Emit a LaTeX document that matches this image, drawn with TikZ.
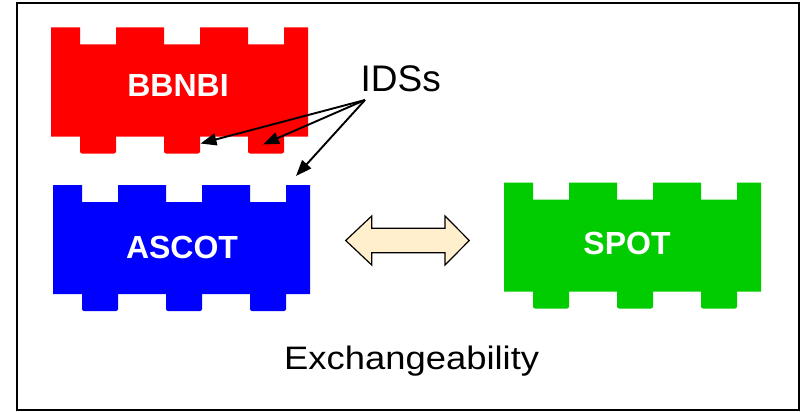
\documentclass[tikz,border=0pt]{standalone}
\usepackage{fontspec}
\setmainfont{Liberation Sans}
\usetikzlibrary{arrows.meta}

\definecolor{brickred}{HTML}{FF0000}
\definecolor{brickblue}{HTML}{0000FF}
\definecolor{brickgreen}{HTML}{00CC00}
\definecolor{swapfill}{HTML}{FFEFCC}

\tikzset{
  brick/.pic={
    % body with three notches on top
    \fill[pic actions]
      (0,0) -- (29,0) -- (29,17) -- (65,17) -- (65,0)
      -- (113,0) -- (113,17) -- (149,17) -- (149,0)
      -- (197,0) -- (197,17) -- (233,17) -- (233,0)
      -- (257,0) -- (257,109) -- (0,109) -- cycle;
    % three tabs below, slightly rounded
    \foreach \tx in {29,113,197}
      \fill[pic actions, rounded corners=2pt] (\tx,100) rectangle ++(36,26);
  },
  bricklabel/.style={text=white, font=\fontsize{32}{36}\selectfont\bfseries, inner sep=0pt},
  bigtext/.style={text=black, inner sep=0pt},
  idsarrow/.style={line width=1.9pt, -{Triangle[length=16pt,width=12pt]}},
}

\begin{document}
\begin{tikzpicture}[x=1pt, y=-1pt]
  \useasboundingbox (0,0) rectangle (801,412);
  % outer frame
  \draw[line width=2pt] (17,3.5) rectangle (799,410);

  % code bricks
  \pic[fill=brickred]   at (51,27.5)  {brick};
  \pic[fill=brickblue]  at (53,185)   {brick};
  \pic[fill=brickgreen] at (504,182.5) {brick};

  \node[bricklabel] (bbnbi) at (178,85)  {BBNBI};
  \node[bricklabel] (ascot) at (182,247) {ASCOT};
  \node[bricklabel] (spot)  at (627,243) {SPOT};

  % interface data structures
  \node[bigtext, anchor=base west, font=\fontsize{37}{40}\selectfont] (ids) at (360.5,91.7) {IDSs};
  \coordinate (idsroot) at (365,100);
  \coordinate (tipA) at (200.5,143.5);
  \coordinate (tipB) at (263,144.5);
  \coordinate (tipC) at (296,176);
  \draw[idsarrow] (idsroot) -- (tipA);
  \draw[idsarrow] (idsroot) -- (tipB);
  \draw[idsarrow] (idsroot) -- (tipC);

  % exchange arrow between the codes
  \filldraw[fill=swapfill, draw=black, line width=1.2pt, line join=miter]
    (345.7,240.5) -- (371.7,216) -- (371.7,228.3) -- (445,228.3) -- (445,216)
    -- (469.3,240.5) -- (445,265) -- (445,252.7) -- (371.7,252.7) -- (371.7,265) -- cycle;

  \node[bigtext, anchor=base west, font=\fontsize{32.5}{40}\selectfont] (exch) at (284,369.3)
    {\scalebox{1.12}[1]{Exchangeability}};
\end{tikzpicture}
\end{document}
